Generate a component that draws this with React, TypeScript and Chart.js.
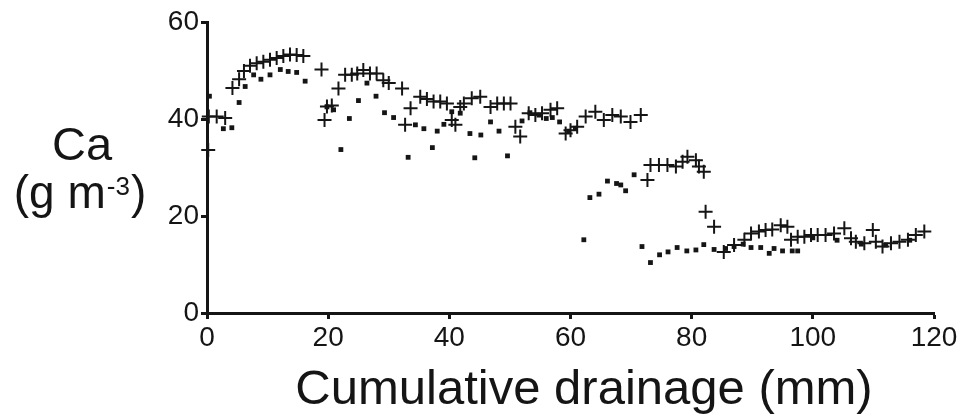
import React, { useEffect, useRef } from "react";
import { Chart, registerables } from "chart.js";

Chart.register(...registerables);

// "+" series
const plusX = [0.2, 0.3, 1.6, 3.0, 4.2, 5.3, 6.1, 7.1, 8.2, 9.3, 10.4, 11.5, 12.6, 13.7, 14.8, 15.9, 18.9, 19.4, 19.8, 20.6, 21.7, 22.8, 23.9, 24.8, 25.8, 26.9, 28.0, 29.1, 30.0, 32.2, 32.7, 33.6, 35.2, 36.3, 37.4, 38.5, 39.6, 40.4, 41.0, 41.8, 42.4, 43.7, 45.1, 46.8, 47.9, 49.0, 50.1, 50.9, 51.7, 53.1, 54.2, 55.3, 56.7, 57.8, 59.2, 60.0, 61.1, 62.5, 64.1, 65.5, 66.9, 68.3, 69.9, 71.6, 72.7, 73.2, 74.6, 76.0, 77.4, 78.5, 79.3, 80.7, 81.2, 82.0, 82.3, 83.7, 85.3, 87.0, 88.7, 89.8, 91.1, 92.2, 93.3, 94.7, 95.8, 96.4, 97.5, 98.6, 99.7, 100.8, 102.1, 103.5, 105.2, 106.3, 107.1, 108.5, 109.9, 110.4, 111.5, 112.9, 114.3, 115.7, 117.0, 118.4];
const plusY = [33.6, 40.5, 40.5, 40.2, 46.4, 48.2, 49.9, 51.0, 51.5, 51.8, 52.2, 52.6, 53.0, 53.3, 53.2, 53.0, 50.2, 39.8, 42.6, 42.8, 46.3, 49.1, 49.1, 49.4, 50.1, 49.4, 49.4, 48.0, 47.4, 46.3, 38.8, 42.2, 44.6, 44.1, 43.6, 43.6, 43.2, 39.8, 38.8, 42.5, 43.2, 44.3, 44.6, 42.5, 43.2, 43.2, 43.2, 38.4, 36.4, 41.2, 40.8, 41.2, 41.9, 42.2, 37.0, 37.7, 38.4, 40.5, 41.5, 39.8, 40.8, 40.5, 39.4, 40.8, 27.4, 30.5, 30.5, 30.5, 30.2, 31.2, 32.2, 31.5, 30.2, 29.1, 20.9, 17.8, 12.6, 14.0, 15.1, 16.4, 16.8, 17.1, 17.2, 18.1, 17.8, 15.1, 15.7, 15.7, 16.1, 16.1, 16.1, 16.4, 17.5, 15.4, 14.7, 14.4, 17.1, 14.7, 13.7, 14.4, 14.7, 15.1, 16.1, 16.8];

// small square series
const dotX = [0.4, 2.7, 4.1, 5.3, 6.3, 7.7, 8.9, 10.4, 12.1, 13.4, 14.8, 16.2, 19.8, 20.9, 22.1, 23.5, 25.0, 26.4, 27.9, 29.3, 30.8, 33.2, 34.4, 35.8, 37.2, 38.0, 39.1, 40.4, 41.8, 43.4, 44.2, 45.2, 46.8, 48.2, 49.6, 52.0, 53.3, 54.8, 56.0, 57.0, 58.2, 59.7, 60.8, 62.2, 63.2, 64.7, 66.1, 67.6, 68.3, 69.1, 70.5, 71.8, 73.2, 74.7, 76.1, 77.6, 79.2, 80.7, 82.0, 83.7, 85.6, 87.0, 88.5, 89.8, 91.4, 92.8, 93.6, 95.0, 96.6, 97.5, 100.0, 104.0, 108.0, 112.0, 116.0];
const dotY = [44.7, 38.0, 38.2, 43.4, 46.7, 49.1, 48.2, 49.1, 50.2, 49.8, 49.6, 47.8, 42.5, 41.9, 33.7, 40.1, 43.8, 47.4, 44.7, 41.3, 40.3, 32.1, 38.8, 38.0, 34.1, 37.5, 38.9, 41.5, 41.2, 37.0, 32.0, 36.7, 39.4, 37.5, 32.4, 39.6, 41.3, 40.8, 40.1, 40.3, 39.4, 37.5, 38.1, 15.1, 23.8, 24.5, 27.2, 26.7, 26.4, 25.2, 28.5, 13.7, 10.4, 12.0, 12.6, 13.5, 12.8, 13.0, 14.1, 13.1, 13.3, 13.7, 14.2, 13.5, 13.5, 12.3, 13.3, 12.8, 12.8, 12.8, 15.5, 15.0, 14.2, 14.0, 15.0];

const xTicks = [0, 20, 40, 60, 80, 100, 120];
const yTicks = [0, 20, 40, 60];

const X_TITLE = "Cumulative drainage (mm)";
const Y_TITLE_1 = "Ca";
const Y_TITLE_2A = "(g m";
const Y_TITLE_2SUP = "-3";
const Y_TITLE_2B = ")";

const INK = "#151515";
const FONT = "'Liberation Sans', Arial, Helvetica, sans-serif";

const titlePlugin = {
  id: "customTitles",
  afterDraw(chart: any) {
    const ctx = chart.ctx as CanvasRenderingContext2D;
    const area = chart.chartArea;
    ctx.save();
    ctx.fillStyle = INK;
    ctx.textBaseline = "alphabetic";
    // x title
    ctx.font = `49px ${FONT}`;
    ctx.textAlign = "center";
    ctx.fillText(X_TITLE, area.left + 377, 404);
    // y title, line 1
    const cx = 80;
    ctx.font = `47px ${FONT}`;
    ctx.fillText(Y_TITLE_1, cx + 2, 160);
    // y title, line 2 with superscript
    ctx.textAlign = "left";
    ctx.font = `46px ${FONT}`;
    const wA = ctx.measureText(Y_TITLE_2A).width;
    const wB = ctx.measureText(Y_TITLE_2B).width;
    ctx.font = `26px ${FONT}`;
    const wS = ctx.measureText(Y_TITLE_2SUP).width;
    const total = wA + wS + 2 + wB;
    let x = cx - total / 2;
    ctx.font = `46px ${FONT}`;
    ctx.fillText(Y_TITLE_2A, x, 208);
    x += wA + 1;
    ctx.font = `26px ${FONT}`;
    ctx.fillText(Y_TITLE_2SUP, x, 195);
    x += wS + 1;
    ctx.font = `46px ${FONT}`;
    ctx.fillText(Y_TITLE_2B, x, 208);
    ctx.restore();
  },
};

export default function App() {
  const ref = useRef<HTMLCanvasElement | null>(null);

  useEffect(() => {
    if (!ref.current) return;
    const plusData = plusX.map((x, i) => ({ x, y: plusY[i] }));
    const dotData = dotX.map((x, i) => ({ x, y: dotY[i] }));
    const chart = new Chart(ref.current, {
      type: "scatter",
      data: {
        datasets: [
          {
            label: "plus",
            data: plusData,
            pointStyle: "cross",
            pointRadius: 7,
            pointBorderWidth: 2,
            borderColor: INK,
            backgroundColor: INK,
            clip: false,
          },
          {
            label: "dot",
            data: dotData,
            pointStyle: "rect",
            pointRadius: 3.4,
            pointBorderWidth: 0,
            borderColor: INK,
            backgroundColor: INK,
            clip: false,
          },
        ],
      },
      plugins: [titlePlugin],
      options: {
        responsive: false,
        animation: false,
        events: [],
        layout: { padding: { left: 0, top: 22, right: 33, bottom: 0 } },
        plugins: {
          legend: { display: false },
          tooltip: { enabled: false },
          title: { display: false },
        },
        scales: {
          x: {
            type: "linear",
            min: 0,
            max: 120,
            afterFit(scale: any) {
              scale.height = 107;
            },
            afterBuildTicks(scale: any) {
              scale.ticks = xTicks.map((v) => ({ value: v }));
            },
            ticks: {
              color: INK,
              font: { family: FONT, size: 28 },
              padding: 2,
              maxRotation: 0,
              autoSkip: false,
            },
            grid: {
              display: true,
              drawOnChartArea: false,
              drawTicks: true,
              tickLength: 6,
              tickWidth: 3,
              tickColor: INK,
              color: INK,
            },
            border: { display: true, width: 3, color: INK },
          },
          y: {
            type: "linear",
            min: 0,
            max: 60,
            afterFit(scale: any) {
              scale.width = 207;
            },
            afterBuildTicks(scale: any) {
              scale.ticks = yTicks.map((v) => ({ value: v }));
            },
            ticks: {
              color: INK,
              font: { family: FONT, size: 28 },
              padding: 2,
              autoSkip: false,
            },
            grid: {
              display: true,
              drawOnChartArea: false,
              drawTicks: true,
              tickLength: 6,
              tickWidth: 3,
              tickColor: INK,
              color: INK,
            },
            border: { display: true, width: 3, color: INK },
          },
        },
      },
    });
    return () => chart.destroy();
  }, []);

  return (
    <div style={{ position: "fixed", left: 0, top: 0, width: 967, height: 420, background: "#fff" }}>
      <canvas ref={ref} width={967} height={420} style={{ display: "block", width: 967, height: 420 }} />
    </div>
  );
}
